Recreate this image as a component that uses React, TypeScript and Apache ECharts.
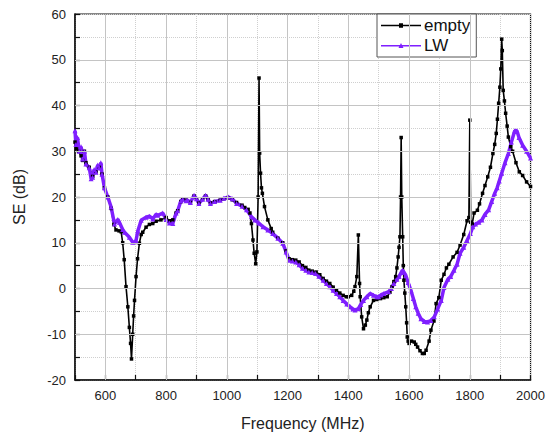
import React, { useEffect, useRef } from "react";
import * as echarts from "echarts";

// ---- data ----
const emptyFreq = [
  500, 505, 512, 520, 525, 531, 536, 547, 558, 569, 580, 589, 597, 608, 619, 628, 635, 645, 652, 657,
  662, 668, 674, 679, 683, 686, 690, 693, 696, 701, 706, 712, 718, 723, 734, 745, 756, 767, 783, 800,
  811, 822, 833, 838, 849, 855, 866, 880, 892, 900, 908, 920, 930, 938, 946, 960, 978, 990, 1005, 1018,
  1032, 1050, 1059, 1070, 1076, 1081, 1086, 1090, 1095, 1099, 1103, 1106, 1108, 1111, 1114, 1117, 1124, 1135, 1146, 1151,
  1168, 1184, 1195, 1205, 1216, 1227, 1238, 1249, 1260, 1270, 1281, 1294, 1306, 1317, 1328, 1339, 1350, 1361, 1372, 1383,
  1393, 1400, 1411, 1418, 1422, 1428, 1433, 1437, 1439, 1444, 1450, 1456, 1461, 1466, 1472, 1483, 1494, 1506, 1517, 1528,
  1537, 1544, 1550, 1556, 1560, 1564, 1567, 1570, 1572, 1574, 1576, 1579, 1581, 1583, 1586, 1589, 1592, 1594, 1597, 1600,
  1608, 1617, 1622, 1628, 1636, 1644, 1650, 1656, 1666, 1672, 1682, 1689, 1698, 1706, 1715, 1723, 1731, 1745, 1758, 1768,
  1780, 1791, 1797, 1800, 1803, 1808, 1814, 1825, 1832, 1842, 1850, 1859, 1868, 1876, 1882, 1887, 1891, 1895, 1899, 1902,
  1905, 1907, 1910, 1914, 1918, 1923, 1927, 1935, 1941, 1952, 1963, 1974, 1987, 2000,
];
const emptySE = [
  32, 30.5, 30, 29, 28, 30, 27.5, 26.5, 24.5, 25.5, 26.5, 25, 22, 20, 17.5, 14, 12.8, 12.6, 12.4, 10,
  6.3, 0.4, -4, -8.5, -12, -15.4, -10, -6, -2.6, 2.6, 6.5, 9.9, 11.8, 12.3, 13.4, 14, 14.2, 14.7, 15, 15.5,
  14.8, 15, 16.5, 17, 19, 19.5, 19.3, 18.8, 20.2, 19.6, 18.7, 19.5, 20.2, 19.5, 18.7, 19, 19.3, 19.6, 19.8, 19.4,
  18.8, 18.2, 17.7, 17.3, 16.5, 14.2, 10.6, 7.7, 5.4, 8, 20, 46, 29.6, 25.2, 22, 20.8, 17.9, 15, 13.1, 12.3,
  11, 10, 8.2, 6.5, 6.3, 6.2, 5.8, 5, 4.6, 4, 3.8, 3.6, 3, 2.2, 1.6, 1.1, 0.3, -0.4, -1, -1.5,
  -1.8, -1.8, -1.5, -0.6, 0.4, 2.6, 11.7, 1.1, -1.8, -6.2, -8.8, -8, -6.9, -5.3, -4, -2.6, -2.4, -2.2, -2, -1.8,
  -0.8, 0.4, 1.5, 2.6, 4.5, 6.9, 9, 11.3, 20, 33, 20, 11.3, 5, 1.8, -1, -4, -7.5, -10.6, -11.5, -12,
  -11.5, -11.7, -12.2, -12.8, -13.6, -14.2, -14.2, -13.5, -11.5, -9.1, -7.1, -3.3, -2, 1.8, 3.1, 4.5, 5.3, 6.9, 7.9, 9.5,
  11.8, 14.8, 15.5, 36.8, 14.5, 14.1, 16.5, 17.1, 18.5, 20.8, 22.5, 24.4, 26.5, 29.5, 31.5, 33.9, 37, 40.5, 44, 48,
  54.5, 52, 43.3, 41, 38.3, 35.5, 33.1, 31, 30, 27.5, 25.5, 24.7, 23.3, 22.3,
];

const lwFreq = [
  500, 503, 508, 514, 520, 525, 531, 536, 547, 553, 558, 563, 569, 575, 580, 585, 589, 597, 608, 619,
  630, 641, 646, 657, 663, 679, 690, 697, 701, 707, 718, 734, 745, 756, 767, 773, 789, 800, 811, 822,
  833, 838, 849, 855, 866, 870, 880, 892, 900, 908, 920, 930, 938, 946, 960, 978, 990, 1005, 1018, 1032,
  1050, 1065, 1081, 1092, 1105, 1119, 1135, 1151, 1168, 1184, 1195, 1205, 1216, 1227, 1238, 1249, 1260, 1270, 1281, 1292,
  1303, 1317, 1328, 1339, 1350, 1361, 1372, 1383, 1395, 1406, 1415, 1422, 1433, 1441, 1450, 1461, 1472, 1483, 1494, 1500,
  1508, 1517, 1533, 1542, 1550, 1560, 1567, 1574, 1578, 1583, 1589, 1597, 1606, 1614, 1622, 1630, 1639, 1650, 1661, 1672,
  1683, 1694, 1706, 1715, 1728, 1737, 1748, 1758, 1768, 1780, 1791, 1802, 1810, 1819, 1830, 1840, 1850, 1862, 1872, 1882,
  1890, 1897, 1905, 1916, 1927, 1937, 1948, 1955, 1962, 1974, 1987, 2000,
];
const lwSE = [
  34.5, 31.5, 33, 30, 31, 28.3, 30, 27.2, 26.4, 24, 24.3, 26, 25.4, 27, 26.4, 27.5, 25, 22, 20, 17.8,
  14.1, 15.1, 14.5, 12.9, 12.3, 11.2, 10.1, 10.2, 10.5, 12.6, 14.9, 15.6, 15.8, 15.2, 16.2, 16, 16.5, 15.1, 14.3, 14.2,
  16.5, 17, 19.2, 19.5, 19.2, 19.3, 18.8, 20.4, 19.6, 18.6, 19.5, 20.4, 19.5, 18.6, 19, 19.3, 19.7, 20, 19.6, 18.6,
  18, 17.2, 15.7, 15, 14.3, 13.5, 12.8, 12, 11, 9.9, 8, 6.2, 6, 5.8, 5.2, 4.4, 4, 3.6, 3.5, 3.3,
  2.7, 1.8, 1.1, 0.4, -0.4, -1.1, -1.8, -2.6, -3.4, -4, -4.5, -4.7, -4.4, -3.5, -2.6, -1.8, -1.1, -1.5, -1.8, -1.8,
  -1.4, -1.1, -0.7, 0, 1.1, 2, 2.6, 3.5, 4, 3.6, 2.9, 1.3, -0.4, -2.2, -4, -5.4, -6.6, -7.2, -7.3, -7,
  -6.2, -4.5, -2.6, 0.2, 2, 2.6, 4, 5.3, 7.7, 9, 10.5, 12, 13.5, 14.1, 14.5, 15, 16.2, 17.2, 19, 20.8,
  22, 23.5, 25.2, 27.5, 29.5, 32, 34.5, 34.5, 33, 31.3, 30, 28.5,
];

const xMajorGrid = [600, 800, 1000, 1200, 1400, 1600, 1800];
const yMajorGrid = [-10, 0, 10, 20, 30, 40, 50];

const FONT = "'Liberation Sans', Arial, sans-serif";
const PURPLE = "#7f1fff";

export default function App() {
  const ref = useRef<HTMLDivElement>(null);

  useEffect(() => {
    if (!ref.current) return;
    const chart = echarts.init(ref.current, undefined, { renderer: "svg" });
    const emptyData = emptyFreq.map((f, i) => [f, emptySE[i]]);
    const lwData = lwFreq.map((f, i) => [f, lwSE[i]]);

    chart.setOption({
      animation: false,
      backgroundColor: "#ffffff",
      textStyle: { fontFamily: FONT },
      grid: {
        left: 75,
        right: 15,
        top: 14,
        bottom: 58,
        show: true,
        borderColor: "#111",
        borderWidth: 1.2,
        backgroundColor: "transparent",
      },
      legend: {
        data: [
          { name: "empty", icon: "path://M0,2.5 L40,2.5 L40,4 L0,4 Z M18,1 L22,1 L22,5.5 L18,5.5 Z" },
          { name: "LW", icon: "path://M0,2.5 L40,2.5 L40,4 L0,4 Z M20,0.5 L22.5,5.5 L17.5,5.5 Z" },
        ],
        orient: "vertical",
        left: 377,
        top: 14,
        padding: [3, 6, 3, 4],
        itemGap: 3,
        itemWidth: 40,
        itemHeight: 6,
        backgroundColor: "#fff",
        borderColor: "#555",
        borderWidth: 1,
        selectedMode: false,
        textStyle: { fontSize: 17, color: "#111", fontFamily: FONT, padding: [0, 0, 0, -2] },
      },
      xAxis: {
        type: "value",
        min: 500,
        max: 2000,
        interval: 100,
        name: "Frequency (MHz)",
        nameLocation: "middle",
        nameGap: 35,
        nameTextStyle: { fontSize: 16, color: "#222", fontFamily: FONT },
        axisLine: { show: true, onZero: false, lineStyle: { color: "#111", width: 1.5 } },
        axisTick: { show: true, inside: true, length: 5, lineStyle: { color: "#111", width: 1.2 } },
        axisLabel: {
          fontSize: 13,
          color: "#222",
          margin: 9,
          fontFamily: FONT,
          formatter: (v: number) => (v % 200 === 0 ? String(v) : ""),
        },
        splitLine: { show: true, lineStyle: { color: "#cfcfcf", type: "dotted", width: 1 } },
      },
      yAxis: {
        type: "value",
        min: -20,
        max: 60,
        interval: 5,
        name: "SE (dB)",
        nameLocation: "middle",
        nameGap: 48,
        nameTextStyle: { fontSize: 16, color: "#222", fontFamily: FONT },
        axisLine: { show: true, onZero: false, lineStyle: { color: "#111", width: 1.5 } },
        axisTick: { show: true, inside: true, length: 5, lineStyle: { color: "#111", width: 1.2 } },
        axisLabel: {
          fontSize: 13,
          color: "#222",
          margin: 9,
          fontFamily: FONT,
          formatter: (v: number) => (v % 10 === 0 ? String(v) : ""),
        },
        splitLine: { show: true, lineStyle: { color: "#cfcfcf", type: "dotted", width: 1 } },
      },
      series: [
        {
          type: "line",
          data: [],
          silent: true,
          markLine: {
            silent: true,
            symbol: "none",
            label: { show: false },
            lineStyle: { color: "#c4c4c4", type: "solid", width: 1 },
            data: [
              ...xMajorGrid.map((v) => ({ xAxis: v })),
              ...yMajorGrid.map((v) => ({ yAxis: v })),
            ],
          },
        },
        {
          name: "empty",
          type: "line",
          data: emptyData,
          color: "#000",
          lineStyle: { color: "#000", width: 1.6 },
          symbol: "rect",
          symbolSize: 3.5,
          showSymbol: true,
          showAllSymbol: true,
          itemStyle: { color: "#000" },
        },
        {
          name: "LW",
          type: "line",
          data: lwData,
          color: PURPLE,
          lineStyle: { color: PURPLE, width: 3.5 },
          symbol: "triangle",
          symbolSize: 5,
          showSymbol: true,
          showAllSymbol: true,
          itemStyle: { color: PURPLE },
        },
      ],
    });
    return () => chart.dispose();
  }, []);

  return (
    <div
      ref={ref}
      style={{ position: "fixed", left: 0, top: 0, width: 548, height: 438, background: "#fff" }}
    />
  );
}
